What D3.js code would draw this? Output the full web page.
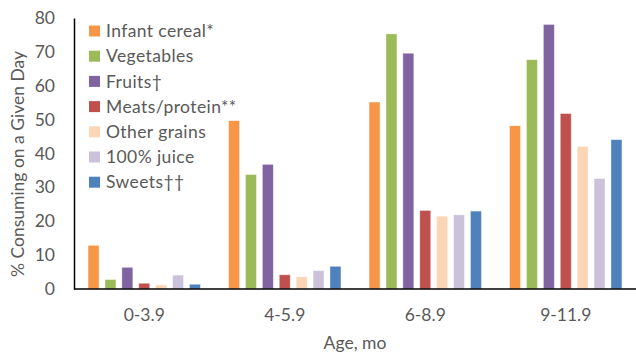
<!DOCTYPE html>
<html>
<head>
<meta charset="utf-8">
<script src="https://cdn.jsdelivr.net/npm/d3@7"></script>
<style>
html,body{margin:0;padding:0;background:#fff;}
svg{display:block;}
text{font-family:Lato,"Open Sans",sans-serif;fill:#595959;}
</style>
</head>
<body>
<svg id="chart" width="636" height="356"></svg>
<script>
const categories = ["0-3.9", "4-5.9", "6-8.9", "9-11.9"];
const seriesNames = ["Infant cereal*", "Vegetables", "Fruits\u2020", "Meats/protein**", "Other grains", "100% juice", "Sweets\u2020\u2020"];
const seriesColors = ["#F79646", "#9BBB59", "#8064A2", "#C0504D", "#FCD5B5", "#CCC1DA", "#4F81BD"];
const infantCereal = [12.9, 49.7, 55.2, 48.2];
const vegetables   = [2.8, 33.8, 75.3, 67.7];
const fruits       = [6.4, 36.8, 69.6, 78.1];
const meats        = [1.7, 4.2, 23.2, 51.8];
const otherGrains  = [1.2, 3.6, 21.5, 42.1];
const juice        = [4.1, 5.4, 21.9, 32.6];
const sweets       = [1.4, 6.7, 23.0, 44.1];
const yTicks = [0, 10, 20, 30, 40, 50, 60, 70, 80];
const yTitle = "% Consuming on a Given Day";
const xTitle = "Age, mo";

const seriesValues = [infantCereal, vegetables, fruits, meats, otherGrains, juice, sweets];
const FS = "17.5px";

const svg = d3.select("#chart");
const m = {left: 74, right: 0, top: 18, bottom: 67};
const W = 636, H = 356;
const x0 = d3.scaleBand().domain(categories).range([m.left, W - m.right]).paddingInner(0.2).paddingOuter(0.1);
const x1 = d3.scaleBand().domain(seriesNames).range([0, x0.bandwidth()]).paddingInner(0.35).paddingOuter(0);
const y = d3.scaleLinear().domain([0, 80]).range([H - m.bottom, m.top]);

// bars
const g = svg.append("g");
categories.forEach((c, ci) => {
  seriesNames.forEach((s, si) => {
    const v = seriesValues[si][ci];
    g.append("rect")
      .attr("x", x0(c) + x1(s))
      .attr("y", y(v))
      .attr("width", x1.bandwidth())
      .attr("height", y(0) - y(v))
      .attr("fill", seriesColors[si])
      .attr("stroke", "#fff")
      .attr("stroke-opacity", 0.5)
      .attr("stroke-width", 0.8);
  });
});

// y axis
const yAxis = d3.axisLeft(y).tickValues(yTicks).tickSize(0).tickPadding(19);
const ya = svg.append("g").attr("transform", `translate(${m.left},0)`).call(yAxis);
ya.select(".domain").attr("stroke", "#000").attr("stroke-width", 1.5);
ya.selectAll("text").style("font-size", FS).attr("fill", "#595959").style("font-family", "Lato");

// x axis
const xAxis = d3.axisBottom(x0).tickSize(0).tickPadding(20);
const xa = svg.append("g").attr("transform", `translate(0,${y(0)})`).call(xAxis);
xa.select(".domain").attr("stroke", "#000").attr("stroke-width", 1.5).attr("d", `M${m.left},0H${W}`);
xa.selectAll("text").style("font-size", FS).attr("fill", "#595959").style("font-family", "Lato");

// axis titles
svg.append("text")
  .attr("transform", `translate(24,164) rotate(-90)`)
  .attr("text-anchor", "middle")
  .style("font-size", FS)
  .text(yTitle);
svg.append("text")
  .attr("x", (m.left + W) / 2)
  .attr("y", 349)
  .attr("text-anchor", "middle")
  .style("font-size", FS)
  .text(xTitle);

// legend
const lg = svg.append("g").attr("transform", "translate(89,31)");
seriesNames.forEach((s, i) => {
  const row = lg.append("g").attr("transform", `translate(0,${i * 25.2})`);
  row.append("rect").attr("x", 0).attr("y", -5.5).attr("width", 11).attr("height", 11).attr("fill", seriesColors[i]);
  row.append("text").attr("x", 17).attr("y", 0).attr("dy", "0.35em").style("font-size", FS).style("letter-spacing", "0.4px").text(s);
});
</script>
</body>
</html>
